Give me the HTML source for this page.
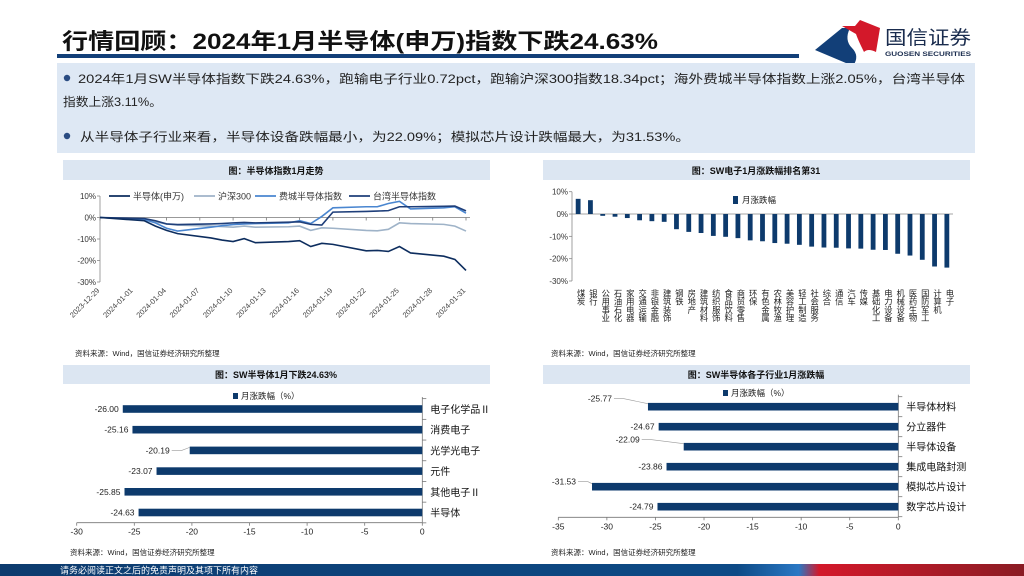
<!DOCTYPE html>
<html><head><meta charset="utf-8">
<style>
html,body{margin:0;padding:0;background:#fff;}
svg{display:block;font-family:"Liberation Sans","Noto Sans CJK SC",sans-serif;}
</style></head>
<body>
<svg id="page" width="1024" height="576" viewBox="0 0 1024 576" xmlns="http://www.w3.org/2000/svg">
<defs>
<linearGradient id="fg" x1="0" x2="1" y1="0" y2="0">
<stop offset="0" stop-color="#0d3b6e"/><stop offset="0.72" stop-color="#0d4a86"/><stop offset="0.78" stop-color="#2a78c4"/><stop offset="0.8" stop-color="#d3182a"/><stop offset="1" stop-color="#8a1c24"/>
</linearGradient>
</defs>
<g>
<text x="62" y="49" font-size="22" font-weight="bold" fill="#111" textLength="596" lengthAdjust="spacingAndGlyphs">行情回顾：2024年1月半导体(申万)指数下跌24.63%</text>
<rect x="57" y="54" width="742" height="4" fill="#123f78"/>
<g>
<path d="M815 50 L842 28 L850 28 Q844 40 852 48 Q860 56 853 66 Z" fill="#123f78"/>
<path d="M842 26 L855 26 L860 20 L880 28 L876 52 Q868 48 864 52 Q858 40 856 34 Z" fill="#d3182a"/>
<text x="885" y="44" font-size="19" fill="#1a2c4e" textLength="86" lengthAdjust="spacingAndGlyphs">国信证券</text>
<text x="885" y="56" font-size="6.5" font-weight="bold" fill="#1a2c4e" textLength="86" lengthAdjust="spacingAndGlyphs">GUOSEN SECURITIES</text>
</g>
</g>
<g>
<rect x="57" y="63" width="918" height="90" fill="#dee8f4"/>
<circle cx="67" cy="78" r="3.2" fill="#2a4c82"/>
<text x="78" y="83" font-size="12" fill="#222" textLength="887" lengthAdjust="spacingAndGlyphs">2024年1月SW半导体指数下跌24.63%，跑输电子行业0.72pct，跑输沪深300指数18.34pct；海外费城半导体指数上涨2.05%，台湾半导体</text>
<text x="63" y="106" font-size="12" fill="#222" textLength="99" lengthAdjust="spacingAndGlyphs">指数上涨3.11%。</text>
<circle cx="67" cy="136" r="3.2" fill="#2a4c82"/>
<text x="80" y="141" font-size="12" fill="#222" textLength="610" lengthAdjust="spacingAndGlyphs">从半导体子行业来看，半导体设备跌幅最小，为22.09%；模拟芯片设计跌幅最大，为31.53%。</text>
</g>
<g>
<rect x="63" y="160" width="427" height="20" fill="#dce6f2"/>
<text x="276" y="174" font-size="9" font-weight="bold" text-anchor="middle" fill="#111">图：半导体指数1月走势</text>
<rect x="543" y="160" width="427" height="20" fill="#dce6f2"/>
<text x="756" y="174" font-size="9" font-weight="bold" text-anchor="middle" fill="#111">图：SW电子1月涨跌幅排名第31</text>
<rect x="63" y="365" width="427" height="19" fill="#dce6f2"/>
<text x="276" y="378" font-size="9" font-weight="bold" text-anchor="middle" fill="#111">图：SW半导体1月下跌24.63%</text>
<rect x="543" y="365" width="427" height="19" fill="#dce6f2"/>
<text x="756" y="378" font-size="9" font-weight="bold" text-anchor="middle" fill="#111">图：SW半导体各子行业1月涨跌幅</text>
</g>
<g font-size="7.5" fill="#222">
<text x="75" y="356">资料来源：Wind，国信证券经济研究所整理</text>
<text x="551" y="356">资料来源：Wind，国信证券经济研究所整理</text>
<text x="70" y="555">资料来源：Wind，国信证券经济研究所整理</text>
<text x="551" y="555">资料来源：Wind，国信证券经济研究所整理</text>
</g>
<g id="lineChart"></g>
<g id="rankChart"></g>
<g id="hbar1"></g>
<g id="hbar2"></g>
<g>
<rect x="0" y="564" width="1024" height="12" fill="url(#fg)"/>
<text x="60" y="573.5" font-size="9" fill="#fff">请务必阅读正文之后的免责声明及其项下所有内容</text>
</g>
</svg>
<script>
const NS="http://www.w3.org/2000/svg";
// ---- line chart data ----
const lineDates=["12-29","01-02","01-03","01-04","01-05","01-08","01-09","01-10","01-11","01-12","01-15","01-16","01-17","01-18","01-19","01-22","01-23","01-24","01-25","01-26","01-29","01-30","01-31"];
const semiSW=[0,-1.5,-4,-6,-7.5,-9.5,-10.5,-11.2,-9.8,-11.7,-11.2,-10.8,-13.5,-12,-12.5,-15.5,-15.3,-15.8,-13.5,-16.5,-18,-19.5,-24.6];
const hs300=[0,-1,-2,-3,-3.5,-4,-4.2,-4.5,-4,-4.5,-4.3,-4,-6,-4.8,-5,-6,-6.2,-5.5,-2.5,-2.8,-3.2,-4,-6.3];
const phlx=[0,-1,-2.5,-5,-6.3,-4.5,-3.8,-3.3,-3,-2.8,-2.5,-1.5,-2.8,0.5,4.5,5,5,6.5,7.5,4,4.5,5,2];
const taiwan=[0,-0.5,-1.5,-3,-3.3,-3,-2.8,-2.5,-2.3,-2.5,-2.2,-2,-3.2,-3.5,2.5,2.8,3,3.2,5,5,5.2,5.3,3.1];
const lineSeriesNames=["半导体(申万)","沪深300","费城半导体指数","台湾半导体指数"];
const lineYTicks=[10,0,-10,-20,-30];
const lineXTicks=["2023-12-29","2024-01-01","2024-01-04","2024-01-07","2024-01-10","2024-01-13","2024-01-16","2024-01-19","2024-01-22","2024-01-25","2024-01-28","2024-01-31"];
// ---- rank chart data ----
const rankCats=["煤炭","银行","公用事业","石油石化","家用电器","交通运输","非银金融","建筑装饰","钢铁","房地产","建筑材料","纺织服饰","食品饮料","商贸零售","环保","有色金属","农林牧渔","美容护理","轻工制造","社会服务","综合","通信","汽车","传媒","基础化工","电力设备","机械设备","医药生物","国防军工","计算机","电子"];
const rankVals=[6.8,6.2,-0.8,-1.2,-1.8,-2.8,-3.2,-3.5,-6.8,-8,-8.5,-9.8,-10.2,-10.8,-11.8,-12.2,-13,-13.3,-13.8,-14.6,-15,-15.1,-15.4,-15.5,-16,-16.1,-17.8,-18.6,-20.5,-23.5,-24];
const rankYTicks=[10,0,-10,-20,-30];
// ---- horizontal bar data ----
const h1Cats=["电子化学品Ⅱ","消费电子","光学光电子","元件","其他电子Ⅱ","半导体"];
const h1Vals=[-26.00,-25.16,-20.19,-23.07,-25.85,-24.63];
const h1Ticks=[-30,-25,-20,-15,-10,-5,0];
const h2Cats=["半导体材料","分立器件","半导体设备","集成电路封测","模拟芯片设计","数字芯片设计"];
const h2Vals=[-25.77,-24.67,-22.09,-23.86,-31.53,-24.79];
const h2Ticks=[-35,-30,-25,-20,-15,-10,-5,0];

function mk(tag,attrs,parent,txt){const e=document.createElementNS(NS,tag);for(const k in attrs)e.setAttribute(k,attrs[k]);if(txt!==undefined)e.textContent=txt;parent.appendChild(e);return e;}

// ===== Line chart =====
(function(){
const g=document.getElementById('lineChart');
const x0=100,x1=466,yTop=196,yBot=282;
const dayIdx=d=>{const [m,dd]=d.split("-").map(Number);return m===12?dd-29:dd+2;};
const xs=d=>x0+(x1-x0)*dayIdx(d)/33;
const ys=v=>yTop+(10-v)/40*(yBot-yTop);
mk('line',{x1:x0,y1:yTop,x2:x0,y2:yBot,stroke:'#888','stroke-width':0.8},g);
mk('line',{x1:x0,y1:ys(0),x2:x1+4,y2:ys(0),stroke:'#777','stroke-width':0.8},g);
lineYTicks.forEach(t=>{
 const tk=mk('line',{x1:x0-3,y1:ys(t),x2:x0,y2:ys(t),stroke:'#888','stroke-width':0.8},g);
 
 
 const lb=mk('text',{x:x0-4,y:ys(t)+3,'font-size':8,'text-anchor':'end',fill:'#333'},g,t+'%');
 
 
});
lineXTicks.forEach((t,i)=>{
 const x=x0+(x1-x0)*i*3/33;
 mk('line',{x1:x,y1:ys(0),x2:x,y2:ys(0)+3,stroke:'#777','stroke-width':0.8},g);
 const lb=mk('text',{x:x,y:291,'font-size':7.5,'text-anchor':'end',fill:'#444',transform:`rotate(-45 ${x} 291)`},g,t);
 
 
});
const series=[[hs300,'#9fb3c8'],[phlx,'#4a86d0'],[taiwan,'#1f3f7a'],[semiSW,'#0d2d5e']];
const sNames=['hs300-line','phlx-semi-line','taiwan-semi-line','sw-semi-line'];
series.forEach((s,k)=>{
 const p=mk('polyline',{points:s[0].map((v,i)=>xs(lineDates[i])+','+ys(v)).join(' '),fill:'none',stroke:s[1],'stroke-width':1.6},g);
 
 
});
const legCols=['#0d2d5e','#9fb3c8','#4a86d0','#1f3f7a'];
const legX=[109,194,255,349];
lineSeriesNames.forEach((n,i)=>{
 const lg=mk('g',{},g);
 
 
 mk('line',{x1:legX[i],y1:196,x2:legX[i]+21,y2:196,stroke:legCols[i],'stroke-width':1.8},lg);
 mk('text',{x:legX[i]+24,y:199.5,'font-size':9,fill:'#333'},lg,n);
});
})();

// ===== Rank chart =====
(function(){
const g=document.getElementById('rankChart');
const x0=572,x1=953,yTop=191.7,yBot=281;
const ys=v=>yTop+(10-v)/40*(yBot-yTop);
const band=(x1-x0)/rankCats.length;
mk('line',{x1:x0,y1:yTop,x2:x0,y2:yBot,stroke:'#888','stroke-width':0.8},g);
mk('line',{x1:x0,y1:ys(0),x2:x1,y2:ys(0),stroke:'#888','stroke-width':0.8},g);
rankYTicks.forEach(t=>{
 mk('line',{x1:x0-3,y1:ys(t),x2:x0,y2:ys(t),stroke:'#888','stroke-width':0.8},g);
 const lb=mk('text',{x:x0-4,y:ys(t)+3,'font-size':8,'text-anchor':'end',fill:'#333'},g,t+'%');
 
 
});
rankCats.forEach((c,i)=>{
 const cx=x0+band*(i+0.5),v=rankVals[i];
 const b=mk('rect',{x:cx-2.4,y:Math.min(ys(v),ys(0)),width:4.8,height:Math.abs(ys(v)-ys(0)),fill:'#0d3a6c'},g);
 
 
 const lb=mk('text',{x:cx+3,y:289,'font-size':8.3,fill:'#222','writing-mode':'tb','glyph-orientation-vertical':0},g,c);
 
 
});
const lg=mk('g',{},g);


mk('rect',{x:733,y:196,width:5,height:8,fill:'#0d3a6c'},lg);
mk('text',{x:742,y:203,'font-size':8.5,fill:'#222'},lg,'月涨跌幅');
})();

// ===== Horizontal bars =====
function hbar(id,cats,vals,ticks,xL,x0,rowY0,rowStep,axisY,legX,legY,offsets){
const g=document.getElementById(id);
const min=ticks[0];
const xs=v=>x0+(v/(-min))*(x0-xL);
mk('line',{x1:xL,y1:axisY,x2:x0,y2:axisY,stroke:'#777','stroke-width':0.8},g);
mk('line',{x1:x0,y1:axisY,x2:x0,y2:rowY0-12,stroke:'#777','stroke-width':0.8},g);
ticks.forEach(t=>{
 mk('line',{x1:xs(t),y1:axisY,x2:xs(t),y2:axisY+3,stroke:'#777','stroke-width':0.8},g);
 const lb=mk('text',{x:xs(t),y:axisY+12,'font-size':8.5,'text-anchor':'middle',fill:'#222'},g,t);
 
 
});
for(let i=0;i<=cats.length;i++){const y=rowY0-rowStep/2+i*rowStep;mk('line',{x1:x0,y1:y,x2:x0+4,y2:y,stroke:'#777','stroke-width':0.8},g);}
cats.forEach((c,i)=>{
 const y=rowY0+i*rowStep,v=vals[i];
 const b=mk('rect',{x:xs(v),y:y-3.8,width:x0-xs(v),height:7.6,fill:'#0d3a6c'},g);
 
 
 const o=offsets[i];
 const lx=xs(v)-4-o[0],ly=y+3-o[1];
 const vl=mk('text',{x:lx,y:ly,'font-size':8.5,'text-anchor':'end',fill:'#222'},g,v.toFixed(2));
 
 
 if(o[0]||o[1]) mk('polyline',{points:`${lx+2},${ly-3} ${lx+12},${ly-3} ${xs(v)},${y-3}`,fill:'none',stroke:'#999','stroke-width':0.6},g);
 const cl=mk('text',{x:x0+8,y:y+4,'font-size':10,fill:'#111'},g,c);
 
 
});
const lg=mk('g',{},g);


mk('rect',{x:legX,y:legY-6,width:5,height:6,fill:'#0d3a6c'},lg);
mk('text',{x:legX+8,y:legY,'font-size':8.5,fill:'#222'},lg,'月涨跌幅（%）');
}
hbar('hbar1',h1Cats,h1Vals,h1Ticks,76.7,422.3,409,20.7,522.7,233,399,[[0,0],[0,0],[16,0],[0,0],[0,0],[0,0]]);
hbar('hbar2',h2Cats,h2Vals,h2Ticks,558.3,898.3,406.7,20,517.3,723,396,[[32,8],[0,0],[40,7],[0,0],[12,5],[0,0]]);
</script>
</body></html>
